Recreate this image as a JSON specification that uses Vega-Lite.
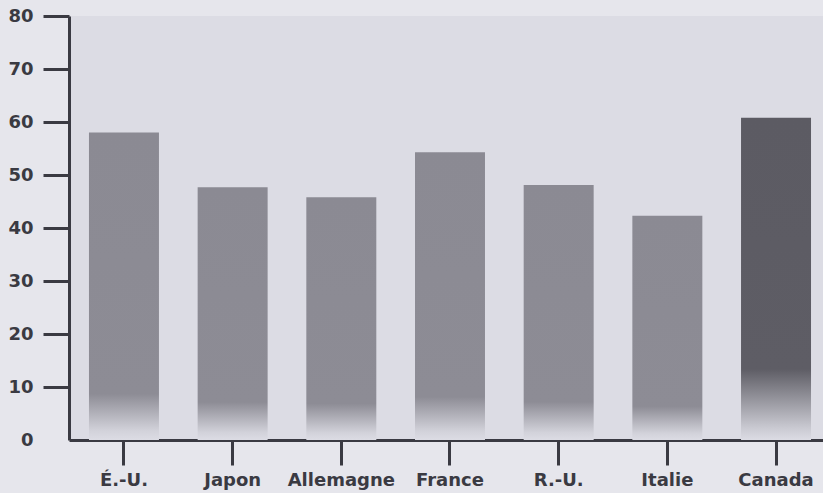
{
  "$schema": "https://vega.github.io/schema/vega-lite/v6.json",
  "width": 754,
  "height": 424,
  "autosize": {"type": "none"},
  "padding": {"left": 69, "top": 16, "right": 0, "bottom": 53},
  "background": "#e6e6ec",
  "config": {
    "view": {"fill": "#dcdce4", "stroke": null},
    "font": "DejaVu Sans"
  },
  "data": {
    "values": [
      {"pays": "É.-U.", "valeur": 58},
      {"pays": "Japon", "valeur": 47.7},
      {"pays": "Allemagne", "valeur": 45.8},
      {"pays": "France", "valeur": 54.3},
      {"pays": "R.-U.", "valeur": 48.1},
      {"pays": "Italie", "valeur": 42.3},
      {"pays": "Canada", "valeur": 60.8}
    ]
  },
  "mark": {"type": "bar"},
  "encoding": {
    "x": {
      "field": "pays",
      "type": "nominal",
      "sort": null,
      "scale": {"paddingInner": 0.356, "paddingOuter": 0.147, "align": 0.625},
      "axis": {
        "title": null,
        "labelAngle": 0,
        "labelFont": "DejaVu Sans",
        "labelFontWeight": "bold",
        "labelFontSize": 18,
        "labelColor": "#3a3a42",
        "labelPadding": 6,
        "tickSize": 25,
        "tickWidth": 3,
        "tickColor": "#3a3a42",
        "domainWidth": 3,
        "domainColor": "#3a3a42"
      }
    },
    "y": {
      "field": "valeur",
      "type": "quantitative",
      "scale": {"domain": [0, 80]},
      "axis": {
        "title": null,
        "values": [0, 10, 20, 30, 40, 50, 60, 70, 80],
        "grid": false,
        "labelFont": "DejaVu Sans",
        "labelFontWeight": "bold",
        "labelFontSize": 18,
        "labelColor": "#3a3a42",
        "labelPadding": 10,
        "tickSize": 26,
        "tickWidth": 3,
        "tickColor": "#3a3a42",
        "tickOpacity": {"condition": {"test": "datum.value === 0", "value": 0}, "value": 1},
        "domainWidth": 3,
        "domainColor": "#3a3a42"
      }
    },
    "color": {
      "condition": {
        "test": "datum.pays === 'Canada'",
        "value": {
          "gradient": "linear", "x1": 0, "y1": 0, "x2": 0, "y2": 1,
          "stops": [
            {"offset": 0, "color": "#5c5b63"},
            {"offset": 0.78, "color": "#5e5d65"},
            {"offset": 0.96, "color": "#c8c8d0"},
            {"offset": 1, "color": "#dcdce4"}
          ]
        }
      },
      "value": {
        "gradient": "linear", "x1": 0, "y1": 0, "x2": 0, "y2": 1,
        "stops": [
          {"offset": 0, "color": "#8b8a93"},
          {"offset": 0.85, "color": "#8d8c95"},
          {"offset": 0.97, "color": "#d2d2da"},
          {"offset": 1, "color": "#dcdce4"}
        ]
      }
    }
  }
}
